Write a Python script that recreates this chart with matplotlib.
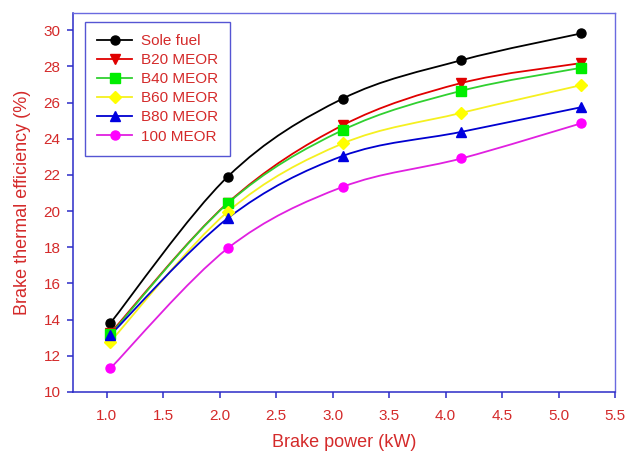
import matplotlib
matplotlib.use('Agg')
import numpy as np
import matplotlib.pyplot as plt
from matplotlib.path import Path
from matplotlib.patches import PathPatch
from matplotlib.lines import Line2D

plt.rcParams['font.family'] = ['Liberation Sans', 'DejaVu Sans']

# brake power (kW)
power = [1.03, 2.07, 3.09, 4.14, 5.2]

# brake thermal efficiency (%)
sole_fuel = [13.8, 21.9, 26.22, 28.34, 29.82]
b20 = [13.25, 20.45, 24.75, 27.08, 28.18]
b40 = [13.18, 20.42, 24.48, 26.65, 27.92]
b60 = [12.78, 19.96, 23.74, 25.43, 26.96]
b80 = [13.15, 19.6, 23.05, 24.38, 25.74]
m100 = [11.3, 17.94, 21.34, 22.91, 24.85]

labels = ['Sole fuel', 'B20 MEOR', 'B40 MEOR', 'B60 MEOR', 'B80 MEOR', '100 MEOR']
series = [sole_fuel, b20, b40, b60, b80, m100]
line_colors = ['black', '#e00000', '#30d030', '#f5f020', '#0000d0', '#e020e0']
mk_colors = ['black', '#e00000', '#00ee00', '#ffff00', '#0000e0', '#ff00ff']
markers = ['o', 'v', 's', 'D', '^', 'o']
msizes = [6.5, 6.5, 6.5, 6, 6.5, 6.5]

red = '#d42a2a'
blue = '#2b2bc8'


def smooth_path(x, y):
    # Catmull-Rom style cubic bezier segments through the data points
    pts = np.column_stack([x, y])
    ext = np.vstack([pts[0], pts, pts[-1]])
    verts = [pts[0]]
    codes = [Path.MOVETO]
    for i in range(len(pts) - 1):
        p0, p1, p2, p3 = ext[i], ext[i + 1], ext[i + 2], ext[i + 3]
        verts += [p1 + (p2 - p0) / 6, p2 - (p3 - p1) / 6, p2]
        codes += [Path.CURVE4] * 3
    return Path(verts, codes)


fig = plt.figure(figsize=(6.26, 4.53), dpi=100)
ax = fig.add_axes([0.1166, 0.1347, 0.8658, 0.8366])

handles = []
for ys, lab, lc, mc, m, ms in zip(series, labels, line_colors, mk_colors, markers, msizes):
    ax.add_patch(PathPatch(smooth_path(power, ys), fill=False, edgecolor=lc, lw=1.3))
    ax.plot(power, ys, ls='none', marker=m, ms=ms, color=mc, mec=mc)
    handles.append(Line2D([], [], color=lc, lw=1.3, marker=m, ms=ms, mfc=mc, mec=mc))

ax.set_xlim(0.7, 5.5)
ax.set_ylim(10, 30.95)
ax.set_xticks(np.arange(1.0, 5.51, 0.5))
ax.set_yticks(np.arange(10, 30.1, 2))
ax.xaxis.set_major_formatter(matplotlib.ticker.FormatStrFormatter('%.1f'))

for s in ['left', 'bottom']:
    ax.spines[s].set_color(blue)
    ax.spines[s].set_linewidth(1.1)
for s in ['top', 'right']:
    ax.spines[s].set_color('#6a6ae0')
    ax.spines[s].set_linewidth(1.0)

ax.tick_params(direction='out', length=4, width=1.1, color=blue, labelcolor=red,
               labelsize=11, pad=5)
ax.tick_params(axis='x', pad=8)

ax.set_xlabel('Brake power (kW)', color=red, fontsize=13, labelpad=8)
ax.set_ylabel('Brake thermal efficiency (%)', color=red, fontsize=13, labelpad=9)

leg = ax.legend(handles, labels, loc='upper left', bbox_to_anchor=(0.022, 0.976),
                borderaxespad=0, fontsize=11, frameon=True, fancybox=False,
                handlelength=2.3, labelspacing=0.33, borderpad=0.8, handletextpad=0.55)
leg.get_frame().set_edgecolor(blue)
leg.get_frame().set_linewidth(1.0)
for t in leg.get_texts():
    t.set_color(red)

fig.savefig('out.png', dpi=100)
